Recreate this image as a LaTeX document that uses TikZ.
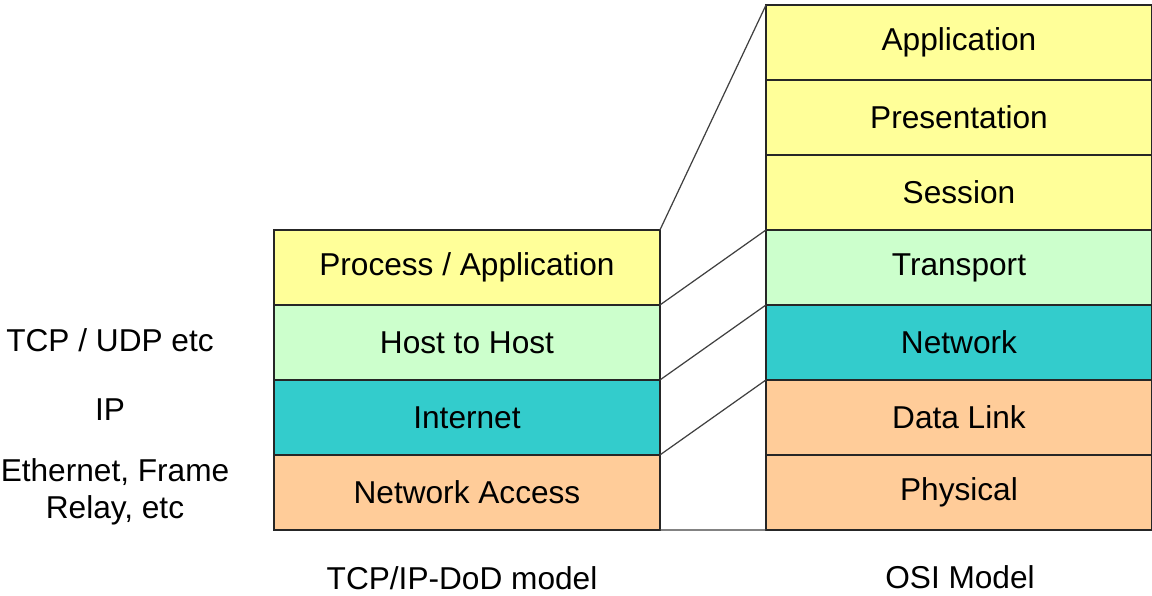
\documentclass[tikz,border=0pt]{standalone}
\usepackage{fontspec}
\setmainfont{Liberation Sans}
\usetikzlibrary{positioning}
\definecolor{layyellow}{HTML}{FFFF99}
\definecolor{laygreen}{HTML}{CCFFCC}
\definecolor{layteal}{HTML}{33CCCC}
\definecolor{layorange}{HTML}{FFCC99}
\tikzset{
  layer/.style={draw=black!85,line width=0.8pt,minimum width=7.72cm,minimum height=1.5cm,
    inner sep=0pt,outer sep=0pt,font=\fontsize{18}{21}\selectfont},
  link/.style={draw=black!75,line width=0.7pt},
  side/.style={font=\fontsize{18}{21}\selectfont,align=center}
}

\begin{document}
\begin{tikzpicture}[x=0.02cm,y=-0.02cm,node distance=0pt]
            \useasboundingbox (0,0) rectangle (1152,595);
            % TCP/IP stack
            \node[layer,fill=layyellow,anchor=north west] (proc) at (274,230) {Process / Application};
            \node[layer,fill=laygreen,below=of proc] (host) {Host to Host};
            \node[layer,fill=layteal,below=of host] (inet) {Internet};
            \node[layer,fill=layorange,below=of inet] (nacc) {Network Access};
            % OSI stack
            \node[layer,fill=layyellow,anchor=north west] (appl) at (766,5) {Application};
            \node[layer,fill=layyellow,below=of appl] (pres) {Presentation};
            \node[layer,fill=layyellow,below=of pres] (sess) {Session};
            \node[layer,fill=laygreen,below=of sess] (trans) {Transport};
            \node[layer,fill=layteal,below=of trans] (netw) {Network};
            \node[layer,fill=layorange,below=of netw] (dlink) {Data Link};
            \node[layer,fill=layorange,below=of dlink] (phys) {Physical};
            % links between the two
            \draw[link] (proc.north east)--(appl.north west);
            \draw[link] (host.north east)--(trans.north west);
            \draw[link] (inet.north east)--(netw.north west);
            \draw[link] (nacc.north east)--(dlink.north west);
            \draw[link] (nacc.south east)--(phys.south west);
            % side labels
            \node[side] (tcpudp) at (110,340) {TCP / UDP etc};
            \node[side] (ip) at (110,410) {IP};
            \node[side,inner sep=0pt] (eth) at (115,492) {Ethernet, Frame\\ Relay, etc};
            \node[side] (dodlbl) at (462,578) {TCP/IP-DoD model};
            \node[side] (osilbl) at (960,577) {OSI Model};
        \end{tikzpicture}
\end{document}
